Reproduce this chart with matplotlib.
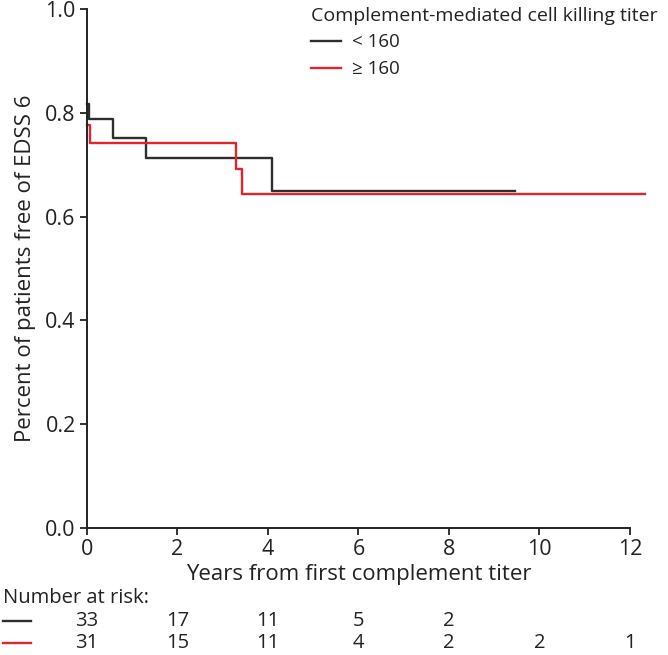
import matplotlib
matplotlib.use("Agg")
import matplotlib.pyplot as plt
import matplotlib.transforms as mtransforms

plt.rcParams["font.family"] = ["Open Sans", "DejaVu Sans"]

# curve data
tempo_baixo = [0, 0.04, 0.58, 1.31, 4.09, 9.45]
surv_baixo = [0.818, 0.788, 0.752, 0.713, 0.649, 0.649]
tempo_alto = [0, 0.08, 3.30, 3.42, 12.33]
surv_alto = [0.776, 0.742, 0.692, 0.643, 0.643]

rotulos = ["< 160", "\u2265 160"]
risco_tempos = [0, 2, 4, 6, 8, 10, 12]
risco_baixo = [33, 17, 11, 5, 2]
risco_alto = [31, 15, 11, 4, 2, 2, 1]

cor_preta = "#2e2e2e"
cor_vermelha = "#e0262b"
cor_texto = "#222222"

fig = plt.figure(figsize=(6.68, 6.55), dpi=100)
ax = fig.add_axes([0.130, 0.194, 0.813, 0.792])

ax.step(tempo_baixo, surv_baixo, where="post", color=cor_preta, lw=1.7,
        label=rotulos[0], clip_on=False)
ax.step(tempo_alto, surv_alto, where="post", color=cor_vermelha, lw=1.7,
        label=rotulos[1], clip_on=False)

ax.set_xlim(0, 12)
ax.set_ylim(0, 1.0)
ax.set_xticks(range(0, 13, 2))
ax.set_yticks([0.0, 0.2, 0.4, 0.6, 0.8, 1.0])
ax.set_yticklabels(["0.0", "0.2", "0.4", "0.6", "0.8", "1.0"])
ax.tick_params(labelsize=15.5, colors=cor_texto, length=5, width=1.3, pad=3)
for s in ["top", "right"]:
    ax.spines[s].set_visible(False)
for s in ["left", "bottom"]:
    ax.spines[s].set_linewidth(1.4)
    ax.spines[s].set_color(cor_texto)

ax.set_xlabel("Years from first complement titer", fontsize=16,
              color=cor_texto, labelpad=3)
ax.set_ylabel("Percent of patients free of EDSS 6", fontsize=16,
              color=cor_texto, labelpad=7)

leg = ax.legend(title="Complement-mediated cell killing titer",
                loc="upper left", bbox_to_anchor=(0.446, 1.010),
                bbox_transform=fig.transFigure, frameon=False,
                fontsize=13.5, title_fontsize=14, handlelength=1.6,
                handletextpad=0.6, labelspacing=0.47, borderpad=0.2)
leg._legend_box.align = "left"
leg.get_title().set_color(cor_texto)
for t in leg.get_texts():
    t.set_color(cor_texto)

# NUMBER AT RISK TABLE
trans = mtransforms.blended_transform_factory(ax.transData, fig.transFigure)
fig.text(0.004, 0.087, "Number at risk:", fontsize=14.5, color=cor_texto,
         va="center", ha="left")
linhas_y = [0.052, 0.019]
for y, cor, valores in zip(linhas_y, [cor_preta, cor_vermelha],
                           [risco_baixo, risco_alto]):
    fig.add_artist(plt.Line2D([0.005, 0.047], [y, y], color=cor, lw=1.7,
                              transform=fig.transFigure))
    for t, n in zip(risco_tempos, valores):
        ax.text(t, y, str(n), transform=trans, fontsize=14.5,
                color=cor_texto, ha="center", va="center")

plt.savefig("out.png", dpi=100)
